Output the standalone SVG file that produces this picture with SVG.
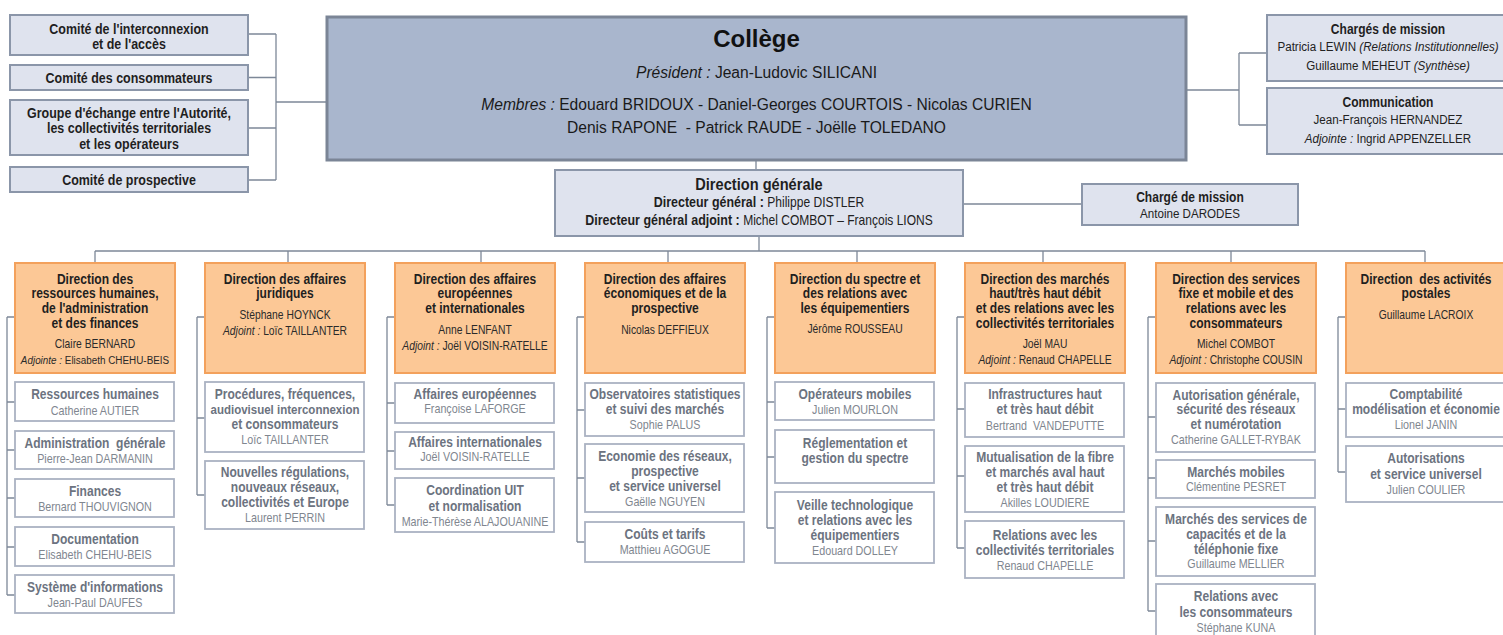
<svg xmlns="http://www.w3.org/2000/svg" width="1503" height="635" viewBox="0 0 1503 635">
<style>
.ln{fill:none;stroke:#7d8898;stroke-width:1.3}
.cbox{fill:#dfe3ee;stroke:#8b96a9;stroke-width:2}
.col{fill:#a9b6cd;stroke:#7b8596;stroke-width:3}
.ob{fill:#fcc896;stroke:#f3a15c;stroke-width:2}
.sb{fill:#ffffff;stroke:#aab2c2;stroke-width:1.8}
text{font-family:"Liberation Sans",Arial,sans-serif;text-anchor:middle}
.b{font-weight:bold;font-size:14px;fill:#1f1f1f}
.cb{font-weight:bold;font-size:14.5px;fill:#1f1f1f}
.n{font-size:12px;fill:#2a2a2a}
.rn{font-size:13.5px;fill:#222}
.st{font-weight:bold;font-size:14px;fill:#6c7380}
.sn{font-size:12.5px;fill:#80868f}
.i{font-style:italic}
.cl{font-size:15.6px;fill:#1a1a1a}
</style>
<g id="connectors" class="ln">
<path d="M248 34H276M248 77.5H276M248 128H276M248 180H276M276 34V180M276 102H327"/>
<path d="M1186 90H1239M1239 53V125M1239 53H1267M1239 125H1267"/>
<path d="M756 160V170M963 204H1082M759 236V251M95 251H1425M95 251V263M288 251V263M481 251V263M668 251V263M857 251V263M1043 251V263M1231 251V263M1425 251V263"/>
<path d="M7 317V595M7 317H15M7 402H15M7 450H15M7 498H15M7 547H15M7 595H15"/>
<path d="M197 317V495M197 317H205M197 418H205M197 495H205"/>
<path d="M387 317V505M387 317H395M387 403H395M387 451H395M387 505H395"/>
<path d="M577 317V542M577 317H585M577 410H585M577 478H585M577 542H585"/>
<path d="M767 317V528M767 317H775M767 402H775M767 457H775M767 528H775"/>
<path d="M957 317V548M957 317H965M957 409H965M957 476H965M957 548H965"/>
<path d="M1148 317V611M1148 317H1156M1148 417H1156M1148 478H1156M1148 541H1156M1148 611H1156"/>
<path d="M1338 317V472M1338 317H1346M1338 409H1346M1338 472H1346"/>
</g>

<g id="comite-interconnexion"><rect class="cbox" x="10" y="15" width="238" height="40"/>
<g transform="translate(129 0) scale(.86 1)"><text class="cb" y="34">Comité de l'interconnexion</text><text class="cb" y="49">et de l'accès</text></g></g>
<g id="comite-consommateurs"><rect class="cbox" x="10" y="65" width="238" height="25"/>
<g transform="translate(129 0) scale(.86 1)"><text class="cb" y="83">Comité des consommateurs</text></g></g>
<g id="groupe-echange"><rect class="cbox" x="10" y="100" width="238" height="55"/>
<g transform="translate(129 0) scale(.86 1)"><text class="cb" y="118">Groupe d'échange entre l'Autorité,</text><text class="cb" y="133">les collectivités territoriales</text><text class="cb" y="149">et les opérateurs</text></g></g>
<g id="comite-prospective"><rect class="cbox" x="10" y="167" width="238" height="25"/>
<g transform="translate(129 0) scale(.86 1)"><text class="cb" y="185">Comité de prospective</text></g></g>

<g id="college"><rect class="col" x="327" y="17" width="859" height="143"/>
<text x="756.5" y="47" style="font-weight:bold;font-size:24px;fill:#111">Collège</text>
<text class="cl" x="756.5" y="78"><tspan class="i">Président :</tspan> Jean-Ludovic SILICANI</text>
<text class="cl" x="756.5" y="110"><tspan class="i">Membres :</tspan> Edouard BRIDOUX - Daniel-Georges COURTOIS - Nicolas CURIEN</text>
<text class="cl" x="756.5" y="133">Denis RAPONE &#160;- Patrick RAUDE - Joëlle TOLEDANO</text></g>

<g id="charges-mission"><rect class="cbox" x="1267" y="15" width="245" height="66"/>
<g transform="translate(1388 0) scale(.86 1)"><text class="b" y="34">Chargés de mission</text><text class="rn" y="51.5">Patricia LEWIN <tspan class="i">(Relations Institutionnelles)</tspan></text><text class="rn" y="70">Guillaume MEHEUT <tspan class="i">(Synthèse)</tspan></text></g></g>
<g id="communication"><rect class="cbox" x="1267" y="88" width="245" height="66"/>
<g transform="translate(1388 0) scale(.86 1)"><text class="b" y="107">Communication</text><text class="rn" y="124.5">Jean-François HERNANDEZ</text><text class="rn" y="143.5"><tspan class="i">Adjointe : </tspan> Ingrid APPENZELLER</text></g></g>

<g id="direction-generale"><rect class="cbox" x="555" y="170" width="408" height="66"/>
<g transform="translate(759 0) scale(.86 1)"><text class="b" y="190" style="font-size:17px">Direction générale</text>
<text y="207.5"><tspan class="b" style="font-size:14.5px">Directeur général : </tspan><tspan class="rn" style="font-size:14px">Philippe DISTLER</tspan></text>
<text y="225.5"><tspan class="b" style="font-size:14.5px">Directeur général adjoint : </tspan><tspan class="rn" style="font-size:14px">Michel COMBOT – François LIONS</tspan></text></g></g>

<g id="charge-mission-dg"><rect class="cbox" x="1082" y="184" width="216" height="41"/>
<g transform="translate(1190 0) scale(.86 1)"><text class="b" y="202">Chargé de mission</text><text class="rn" y="218.5" style="font-size:13.5px">Antoine DARODES</text></g></g>

<g id="drhaf"><rect class="ob" x="15" y="263" width="160" height="110"/>
<g transform="translate(95 0) scale(.86 1)"><text class="b" y="284">Direction des</text><text class="b" y="298.5">ressources humaines,</text><text class="b" y="313">de l'administration</text><text class="b" y="328">et des finances</text><text class="n" y="348.5">Claire BERNARD</text><text class="n" y="364.5" style="font-size:11.5px"><tspan class="i">Adjointe : </tspan>Elisabeth CHEHU-BEIS</text></g></g>
<g id="daj"><rect class="ob" x="205" y="263" width="160" height="110"/>
<g transform="translate(285 0) scale(.86 1)"><text class="b" y="284">Direction des affaires</text><text class="b" y="298.5">juridiques</text><text class="n" y="319.5">Stéphane HOYNCK</text><text class="n" y="335.5"><tspan class="i">Adjoint : </tspan>Loïc TAILLANTER</text></g></g>
<g id="daei"><rect class="ob" x="395" y="263" width="160" height="110"/>
<g transform="translate(475 0) scale(.86 1)"><text class="b" y="284">Direction des affaires</text><text class="b" y="298.5">européennes</text><text class="b" y="313">et internationales</text><text class="n" y="334.5">Anne LENFANT</text><text class="n" y="350.5"><tspan class="i">Adjoint : </tspan>Joël VOISIN-RATELLE</text></g></g>
<g id="daep"><rect class="ob" x="585" y="263" width="160" height="110"/>
<g transform="translate(665 0) scale(.86 1)"><text class="b" y="284">Direction des affaires</text><text class="b" y="298.5">économiques et de la</text><text class="b" y="313">prospective</text><text class="n" y="334.5">Nicolas DEFFIEUX</text></g></g>
<g id="dsre"><rect class="ob" x="775" y="263" width="160" height="110"/>
<g transform="translate(855 0) scale(.86 1)"><text class="b" y="284">Direction du spectre et</text><text class="b" y="298.5">des relations avec</text><text class="b" y="313">les équipementiers</text><text class="n" y="333.5">Jérôme ROUSSEAU</text></g></g>
<g id="dmhd"><rect class="ob" x="965" y="263" width="160" height="110"/>
<g transform="translate(1045 0) scale(.86 1)"><text class="b" y="284">Direction des marchés</text><text class="b" y="298.5">haut/très haut débit</text><text class="b" y="313">et des relations avec les</text><text class="b" y="328">collectivités territoriales</text><text class="n" y="348.5">Joël MAU</text><text class="n" y="364.5"><tspan class="i">Adjoint : </tspan>Renaud CHAPELLE</text></g></g>
<g id="dsfm"><rect class="ob" x="1156" y="263" width="160" height="110"/>
<g transform="translate(1236 0) scale(.86 1)"><text class="b" y="284">Direction des services</text><text class="b" y="298.5">fixe et mobile et des</text><text class="b" y="313">relations avec les</text><text class="b" y="328">consommateurs</text><text class="n" y="348.5">Michel COMBOT</text><text class="n" y="364.5"><tspan class="i">Adjoint : </tspan>Christophe COUSIN</text></g></g>
<g id="dap"><rect class="ob" x="1346" y="263" width="160" height="110"/>
<g transform="translate(1426 0) scale(.86 1)"><text class="b" y="284">Direction &#160;des activités</text><text class="b" y="298.5">postales</text><text class="n" y="319.5">Guillaume LACROIX</text></g></g>

<g id="rh"><rect class="sb" x="15" y="382" width="159" height="39"/><g transform="translate(95 0) scale(.86 1)"><text class="st" y="399">Ressources humaines</text><text class="sn" y="415.5">Catherine AUTIER</text></g></g>
<g id="admin"><rect class="sb" x="15" y="431" width="159" height="38"/><g transform="translate(95 0) scale(.86 1)"><text class="st" y="448">Administration &#160;générale</text><text class="sn" y="463.5">Pierre-Jean DARMANIN</text></g></g>
<g id="finances"><rect class="sb" x="15" y="479" width="159" height="38"/><g transform="translate(95 0) scale(.86 1)"><text class="st" y="496">Finances</text><text class="sn" y="511.5">Bernard THOUVIGNON</text></g></g>
<g id="documentation"><rect class="sb" x="15" y="527" width="159" height="39"/><g transform="translate(95 0) scale(.86 1)"><text class="st" y="544">Documentation</text><text class="sn" y="559.5">Elisabeth CHEHU-BEIS</text></g></g>
<g id="si"><rect class="sb" x="15" y="575" width="159" height="38"/><g transform="translate(95 0) scale(.86 1)"><text class="st" y="592">Système d'informations</text><text class="sn" y="607.5">Jean-Paul DAUFES</text></g></g>

<g id="procedures"><rect class="sb" x="205" y="382" width="159" height="70"/><g transform="translate(285 0) scale(.86 1)"><text class="st" y="399">Procédures, fréquences,</text><text class="st" y="414" style="font-size:13.4px">audiovisuel interconnexion</text><text class="st" y="429">et consommateurs</text><text class="sn" y="444.5">Loïc TAILLANTER</text></g></g>
<g id="nouvelles-regulations"><rect class="sb" x="205" y="461" width="159" height="68"/><g transform="translate(285 0) scale(.86 1)"><text class="st" y="477">Nouvelles régulations,</text><text class="st" y="492">nouveaux réseaux,</text><text class="st" y="507">collectivités et Europe</text><text class="sn" y="522.5">Laurent PERRIN</text></g></g>

<g id="affaires-europeennes"><rect class="sb" x="395" y="383" width="159" height="40"/><g transform="translate(475 0) scale(.86 1)"><text class="st" y="399">Affaires européennes</text><text class="sn" y="413.5">Françoise LAFORGE</text></g></g>
<g id="affaires-internationales"><rect class="sb" x="395" y="432" width="159" height="37"/><g transform="translate(475 0) scale(.86 1)"><text class="st" y="447">Affaires internationales</text><text class="sn" y="461.5">Joël VOISIN-RATELLE</text></g></g>
<g id="coordination-uit"><rect class="sb" x="395" y="478" width="159" height="54"/><g transform="translate(475 0) scale(.86 1)"><text class="st" y="495">Coordination UIT</text><text class="st" y="511">et normalisation</text><text class="sn" y="526.5">Marie-Thérèse ALAJOUANINE</text></g></g>

<g id="observatoires"><rect class="sb" x="585" y="383" width="159" height="53"/><g transform="translate(665 0) scale(.86 1)"><text class="st" y="399">Observatoires statistiques</text><text class="st" y="414">et suivi des marchés</text><text class="sn" y="429.5">Sophie PALUS</text></g></g>
<g id="economie-reseaux"><rect class="sb" x="585" y="444" width="159" height="68"/><g transform="translate(665 0) scale(.86 1)"><text class="st" y="461">Economie des réseaux,</text><text class="st" y="476">prospective</text><text class="st" y="491">et service universel</text><text class="sn" y="506.5">Gaëlle NGUYEN</text></g></g>
<g id="couts-tarifs"><rect class="sb" x="585" y="522" width="159" height="40"/><g transform="translate(665 0) scale(.86 1)"><text class="st" y="539">Coûts et tarifs</text><text class="sn" y="554.5">Matthieu AGOGUE</text></g></g>

<g id="operateurs-mobiles"><rect class="sb" x="775" y="382" width="159" height="38"/><g transform="translate(855 0) scale(.86 1)"><text class="st" y="399">Opérateurs mobiles</text><text class="sn" y="414.5">Julien MOURLON</text></g></g>
<g id="reglementation-spectre"><rect class="sb" x="775" y="430" width="159" height="53"/><g transform="translate(855 0) scale(.86 1)"><text class="st" y="448">Réglementation et</text><text class="st" y="463">gestion du spectre</text></g></g>
<g id="veille-technologique"><rect class="sb" x="775" y="492" width="159" height="71"/><g transform="translate(855 0) scale(.86 1)"><text class="st" y="510">Veille technologique</text><text class="st" y="525">et relations avec les</text><text class="st" y="540">équipementiers</text><text class="sn" y="555.5">Edouard DOLLEY</text></g></g>

<g id="infrastructures"><rect class="sb" x="965" y="383" width="159" height="54"/><g transform="translate(1045 0) scale(.86 1)"><text class="st" y="399">Infrastructures haut</text><text class="st" y="414">et très haut débit</text><text class="sn" y="430.5">Bertrand &#160;VANDEPUTTE</text></g></g>
<g id="mutualisation"><rect class="sb" x="965" y="446" width="159" height="66"/><g transform="translate(1045 0) scale(.86 1)"><text class="st" y="462">Mutualisation de la fibre</text><text class="st" y="477">et marchés aval haut</text><text class="st" y="492">et très haut débit</text><text class="sn" y="507.5">Akilles LOUDIERE</text></g></g>
<g id="relations-collectivites"><rect class="sb" x="965" y="521" width="159" height="57"/><g transform="translate(1045 0) scale(.86 1)"><text class="st" y="540">Relations avec les</text><text class="st" y="555">collectivités territoriales</text><text class="sn" y="570.5">Renaud CHAPELLE</text></g></g>

<g id="autorisation-generale"><rect class="sb" x="1156" y="383" width="159" height="69"/><g transform="translate(1236 0) scale(.86 1)"><text class="st" y="400">Autorisation générale,</text><text class="st" y="414.5">sécurité des réseaux</text><text class="st" y="429">et numérotation</text><text class="sn" y="444.5">Catherine GALLET-RYBAK</text></g></g>
<g id="marches-mobiles"><rect class="sb" x="1156" y="460" width="159" height="38"/><g transform="translate(1236 0) scale(.86 1)"><text class="st" y="477">Marchés mobiles</text><text class="sn" y="491.5">Clémentine PESRET</text></g></g>
<g id="marches-capacites"><rect class="sb" x="1156" y="507" width="159" height="69"/><g transform="translate(1236 0) scale(.86 1)"><text class="st" y="524">Marchés des services de</text><text class="st" y="539">capacités et de la</text><text class="st" y="554">téléphonie fixe</text><text class="sn" y="568.5">Guillaume MELLIER</text></g></g>
<g id="relations-consommateurs"><rect class="sb" x="1156" y="584" width="159" height="60"/><g transform="translate(1236 0) scale(.86 1)"><text class="st" y="601">Relations avec</text><text class="st" y="617">les consommateurs</text><text class="sn" y="632.5">Stéphane KUNA</text></g></g>

<g id="comptabilite"><rect class="sb" x="1346" y="383" width="160" height="54"/><g transform="translate(1426 0) scale(.86 1)"><text class="st" y="399">Comptabilité</text><text class="st" y="414">modélisation et économie</text><text class="sn" y="429.5">Lionel JANIN</text></g></g>
<g id="autorisations-su"><rect class="sb" x="1346" y="446" width="160" height="56"/><g transform="translate(1426 0) scale(.86 1)"><text class="st" y="463">Autorisations</text><text class="st" y="479">et service universel</text><text class="sn" y="494.5">Julien COULIER</text></g></g>
</svg>
